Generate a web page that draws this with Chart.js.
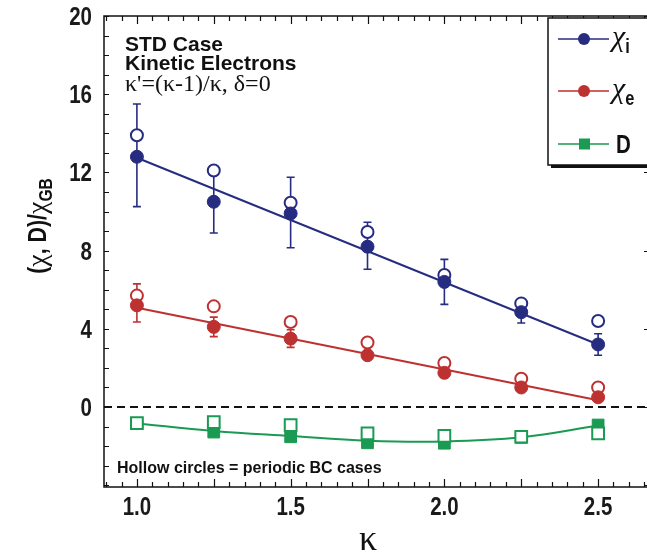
<!DOCTYPE html>
<html>
<head>
<meta charset="utf-8">
<script src="https://cdn.jsdelivr.net/npm/chart.js@4.4.0/dist/chart.umd.min.js"></script>
<style>
html, body { margin: 0; padding: 0; background: #fff; }
</style>
</head>
<body>
<canvas id="chart" width="647" height="557"></canvas>
<script>
/* ====== data ===== */
const kappa = [1.0, 1.25, 1.5, 1.75, 2.0, 2.25, 2.5];

const chiI       = [12.8, 10.5, 9.9, 8.2, 6.4, 4.85, 3.2];
const chiIHi     = [15.5, 12.1, 11.75, 9.45, 7.55, 5.4, 3.75];
const chiILo     = [10.25, 8.9, 8.15, 7.05, 5.25, 4.3, 2.65];
const chiIHollow = [13.9, 12.1, 10.45, 8.95, 6.75, 5.3, 4.4];

const chiE       = [5.2, 4.1, 3.5, 2.65, 1.75, 1.0, 0.5];
const chiEHi     = [6.3, 4.6, 3.95, 2.65, 1.75, 1.0, 0.5];
const chiELo     = [4.35, 3.6, 3.05, 2.65, 1.75, 1.0, 0.5];
const chiEHollow = [5.7, 5.15, 4.35, 3.3, 2.25, 1.45, 1.0];

const dFilled = [-0.84, -1.28, -1.52, -1.83, -1.85, -1.55, -0.92];
const dHollow = [-0.82, -0.77, -0.92, -1.35, -1.48, -1.52, -1.35];

// fitted curves
const fitK    = [1.0, 2.5];
const chiIFit = [12.75, 3.2];
const chiEFit = [5.08, 0.35];
const dFit    = [-0.84, -1.22, -1.48, -1.72, -1.76, -1.55, -0.95];

const xTicks = [1.0, 1.5, 2.0, 2.5];
const yTicks = [0, 4, 8, 12, 16, 20];

const BLUE = '#262d80';
const RED = '#bd3131';
const GREEN = '#1a9a52';
const SANS = "'Liberation Sans', Arial, sans-serif";
const SERIF = "'Liberation Serif', 'Times New Roman', serif";
const SQUEEZE = 0.82;   // fake a condensed face

const pts = (xs, ys) => xs.map((x, i) => ({x: x, y: ys[i]}));

// text drawn narrower than the font, like Helvetica Condensed
function narrowText(ctx, str, x, y, align) {
    ctx.save();
    ctx.translate(x, y);
    ctx.scale(SQUEEZE, 1);
    ctx.textAlign = align;
    ctx.fillText(str, 0, 0);
    ctx.restore();
}

/* ====== plugins ===== */
const errorBars = {
    id: 'errorBars',
    beforeDatasetsDraw(chart) {
        const {ctx, scales: {x, y}} = chart;
        const sets = [[chiILo, chiIHi, BLUE], [chiELo, chiEHi, RED]];
        ctx.save();
        ctx.lineWidth = 1.6;
        sets.forEach(([lo, hi, col]) => {
            ctx.strokeStyle = col;
            kappa.forEach((k, i) => {
                if (hi[i] === lo[i]) return;
                const px = x.getPixelForValue(k);
                const p1 = y.getPixelForValue(lo[i]);
                const p2 = y.getPixelForValue(hi[i]);
                ctx.beginPath();
                ctx.moveTo(px, p1); ctx.lineTo(px, p2);
                ctx.moveTo(px - 4, p1); ctx.lineTo(px + 4, p1);
                ctx.moveTo(px - 4, p2); ctx.lineTo(px + 4, p2);
                ctx.stroke();
            });
        });
        // zero line
        const y0 = y.getPixelForValue(0);
        ctx.strokeStyle = '#111';
        ctx.lineWidth = 2;
        ctx.setLineDash([8, 5]);
        ctx.beginPath();
        ctx.moveTo(chart.chartArea.left, y0);
        ctx.lineTo(chart.chartArea.right, y0);
        ctx.stroke();
        ctx.restore();
    }
};

const decor = {
    id: 'decor',
    afterDraw(chart) {
        const {ctx, chartArea: a, scales: {x, y}} = chart;
        ctx.save();
        // frame
        ctx.strokeStyle = '#111';
        ctx.lineWidth = 1.5;
        ctx.strokeRect(a.left, a.top, a.right - a.left + 4, a.bottom - a.top);
        // inward ticks
        ctx.lineWidth = 1.2;
        ctx.beginPath();
        for (let v = -4; v <= 20; v++) {
            const py = Math.round(y.getPixelForValue(v)) + 0.5;
            ctx.moveTo(a.left, py); ctx.lineTo(a.left + 5, py);
            if (v % 4 === 0) { ctx.moveTo(a.right, py); ctx.lineTo(a.right - 3, py); }
        }
        for (let i = 18; i <= 53; i++) {
            const v = i * 0.05;
            const len = i % 5 === 0 ? 8 : 5;
            const px = Math.round(x.getPixelForValue(v)) + 0.5;
            ctx.moveTo(px, a.bottom); ctx.lineTo(px, a.bottom - len);
            ctx.moveTo(px, a.top); ctx.lineTo(px, a.top + len);
        }
        ctx.stroke();

        // tick labels
        ctx.fillStyle = '#1a1a1a';
        ctx.textBaseline = 'alphabetic';
        ctx.font = 'bold 25px ' + SANS;
        x.ticks.forEach(t => narrowText(ctx, t.value.toFixed(1), x.getPixelForValue(t.value), a.bottom + 28, 'center'));
        y.ticks.forEach(t => narrowText(ctx, String(t.value), a.left - 12, y.getPixelForValue(t.value) + 9, 'right'));

        // annotations
        ctx.fillStyle = '#111';
        ctx.textAlign = 'left';
        ctx.font = 'bold 21px ' + SANS;
        ctx.fillText('STD Case', 125, 51);
        ctx.fillText('Kinetic Electrons', 125, 70);
        ctx.font = '24px ' + SERIF;
        ctx.fillText("\u03BA'=(\u03BA-1)/\u03BA, \u03B4=0", 125, 91);
        ctx.font = 'bold 16px ' + SANS;
        ctx.fillText('Hollow circles = periodic BC cases', 117, 473);

        // x title
        ctx.font = '36px ' + SERIF;
        ctx.textAlign = 'center';
        ctx.fillText('\u03BA', 368, 550);

        // y title
        ctx.save();
        ctx.translate(46, 226);
        ctx.rotate(-Math.PI / 2);
        const parts = [
            ['(', 'bold 26px ' + SANS, 0, true],
            ['\u03C7', '28px ' + SERIF, 0, false],
            [', D)/', 'bold 26px ' + SANS, 0, true],
            ['\u03C7', '28px ' + SERIF, 0, false],
            ['GB', 'bold 19px ' + SANS, 6, true]
        ];
        const wOf = p => { ctx.font = p[1]; return ctx.measureText(p[0]).width * (p[3] ? SQUEEZE : 1); };
        let cx = -parts.reduce((s, p) => s + wOf(p), 0) / 2;
        parts.forEach(p => {
            const w = wOf(p);
            if (p[3]) narrowText(ctx, p[0], cx, p[2], 'left');
            else { ctx.textAlign = 'left'; ctx.fillText(p[0], cx, p[2]); }
            cx += w;
        });
        ctx.restore();

        // legend box
        const bx = 548, by = 18, bw = 110, bh = 147;
        ctx.fillStyle = '#111';
        ctx.fillRect(bx + 3, by + 3, bw, bh);
        ctx.fillStyle = '#fff';
        ctx.fillRect(bx, by, bw, bh);
        ctx.strokeStyle = '#111';
        ctx.lineWidth = 1.5;
        ctx.strokeRect(bx, by, bw, bh);
        const rows = [[BLUE, 'circle', 'i', 39], [RED, 'circle', 'e', 91], [GREEN, 'rect', '', 144]];
        rows.forEach(([col, shape, sub, ry]) => {
            ctx.strokeStyle = col;
            ctx.fillStyle = col;
            ctx.lineWidth = 1.5;
            ctx.beginPath();
            ctx.moveTo(558, ry); ctx.lineTo(609, ry);
            ctx.stroke();
            if (shape === 'circle') {
                ctx.beginPath();
                ctx.arc(584, ry, 6, 0, Math.PI * 2);
                ctx.fill();
            } else {
                ctx.fillRect(579, ry - 5.5, 11, 11);
            }
            ctx.fillStyle = '#111';
            if (sub) {
                ctx.font = 'italic 30px ' + SERIF;
                ctx.textAlign = 'left';
                ctx.fillText('\u03C7', 612, ry + 7);
                const cw = ctx.measureText('\u03C7').width;
                ctx.font = 'bold 20px ' + SANS;
                narrowText(ctx, sub, 612 + cw, ry + 14, 'left');
            } else {
                ctx.font = 'bold 25px ' + SANS;
                narrowText(ctx, 'D', 616, ry + 9, 'left');
            }
        });
        ctx.restore();
    }
};

/* ====== chart ===== */
const fitLine = (data, col, order, tension) => ({
    data: data, borderColor: col, borderWidth: 2, pointRadius: 0,
    showLine: true, fill: false, tension: tension, order: order
});
const markers = (data, col, style, radius, hollow, order) => ({
    data: data, showLine: false, pointStyle: style, pointRadius: radius,
    backgroundColor: hollow ? '#fff' : col, borderColor: col,
    borderWidth: hollow ? 2 : 1, order: order
});

const chart = new Chart(document.querySelector('#chart'), {
    type: 'scatter',
    data: {
        datasets: [
            fitLine(pts(fitK, chiIFit), BLUE, 10, 0),
            fitLine(pts(fitK, chiEFit), RED, 10, 0),
            fitLine(pts(kappa, dFit), GREEN, 10, 0.4),
            markers(pts(kappa, chiIHollow), BLUE, 'circle', 6, true, 6),
            markers(pts(kappa, chiEHollow), RED, 'circle', 6, true, 6),
            markers(pts(kappa, chiI), BLUE, 'circle', 6.5, false, 4),
            markers(pts(kappa, chiE), RED, 'circle', 6.5, false, 4),
            markers(pts(kappa, dFilled), GREEN, 'rect', 8.3, false, 5),
            markers(pts(kappa, dHollow), GREEN, 'rect', 8.3, true, 3)
        ]
    },
    options: {
        responsive: false,
        animation: false,
        layout: { autoPadding: false, padding: { top: 16, right: 0, left: 0, bottom: 0 } },
        plugins: { legend: { display: false }, tooltip: { enabled: false } },
        scales: {
            x: {
                type: 'linear', min: 0.893, max: 2.659,
                afterBuildTicks: s => { s.ticks = xTicks.map(v => ({value: v})); },
                afterFit: s => { s.height = 70; s.paddingLeft = 0; s.paddingRight = 0; },
                grid: { display: false, drawTicks: false },
                border: { display: false },
                ticks: { display: false }
            },
            y: {
                type: 'linear', min: -4.09, max: 20,
                afterBuildTicks: s => { s.ticks = yTicks.map(v => ({value: v})); },
                afterFit: s => { s.width = 104; s.paddingTop = 0; s.paddingBottom = 0; },
                grid: { display: false, drawTicks: false },
                border: { display: false },
                ticks: { display: false }
            }
        }
    },
    plugins: [errorBars, decor]
});
</script>
</body>
</html>
